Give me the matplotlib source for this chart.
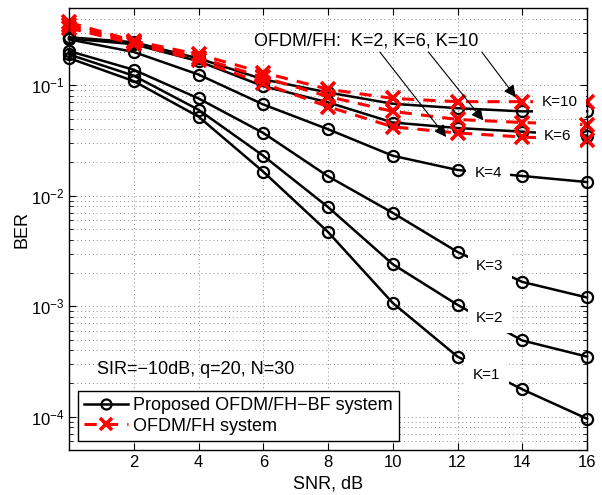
import matplotlib
matplotlib.use("Agg")
import matplotlib.pyplot as plt
import numpy as np

plt.rcParams['font.family'] = ['Liberation Sans', 'DejaVu Sans']
plt.rcParams['mathtext.fontset'] = 'custom'
plt.rcParams['mathtext.rm'] = 'Liberation Sans'
plt.rcParams['mathtext.it'] = 'Liberation Sans'

snr = [0, 2, 4, 6, 8, 10, 12, 14, 16]

# proposed OFDM/FH-BF system
bf_k1 = [0.176, 0.109, 0.052, 0.0165, 0.0047, 0.00107, 3.5e-4, 1.77e-4, 9.6e-5]
bf_k2 = [0.19, 0.122, 0.060, 0.023, 0.0079, 0.0024, 0.00103, 4.9e-4, 3.5e-4]
bf_k3 = [0.204, 0.138, 0.076, 0.037, 0.015, 0.0070, 0.0031, 0.00166, 0.0012]
bf_k4 = [0.26, 0.20, 0.125, 0.067, 0.040, 0.023, 0.0171, 0.0151, 0.0133]
bf_k6 = [0.265, 0.235, 0.165, 0.098, 0.070, 0.046, 0.041, 0.038, 0.035]
bf_k10 = [0.272, 0.245, 0.175, 0.113, 0.086, 0.068, 0.062, 0.058, 0.058]

# OFDM/FH system
fh_k2 = [0.33, 0.237, 0.168, 0.104, 0.064, 0.042, 0.037, 0.034, 0.032]
fh_k6 = [0.35, 0.245, 0.178, 0.118, 0.079, 0.058, 0.049, 0.046, 0.044]
fh_k10 = [0.37, 0.252, 0.19, 0.13, 0.092, 0.076, 0.071, 0.071, 0.071]

bf_curves = [bf_k1, bf_k2, bf_k3, bf_k4, bf_k6, bf_k10]
fh_curves = [fh_k2, fh_k6, fh_k10]

# curve labels: (text, snr, ber)
k_labels = [("K=1", 12.9, 2.4e-4), ("K=2", 13.0, 7.9e-4), ("K=3", 13.0, 2.3e-3),
            ("K=4", 12.95, 0.016), ("K=6", 15.1, 0.035), ("K=10", 15.15, 0.071)]

# arrows for the OFDM/FH note: (start snr, start ber, end snr, end ber)
arrows = [(9.6, 0.2, 11.65, 0.034), (11.1, 0.2, 12.8, 0.048), (12.75, 0.2, 13.8, 0.078)]

fig = plt.figure(figsize=(6.02, 4.95), dpi=100)
ax = fig.add_axes([69/602, 45/495, 518/602, 442/495])

for i, y in enumerate(bf_curves):
    ax.plot(snr, y, '-o', color='black', lw=1.8, ms=8, mfc='none', mew=1.6,
            clip_on=False, label='Proposed OFDM/FH\u2212BF system' if i == 0 else None)
for i, y in enumerate(fh_curves):
    ax.plot(snr, y, '--x', color='red', lw=2.2, ms=10, mew=2.6, dashes=(4, 3),
            clip_on=False, label='OFDM/FH system' if i == 0 else None)

ax.set_yscale('log')
ax.set_xlim(0, 16)
ax.set_ylim(5e-5, 0.5)
ax.set_xticks([2, 4, 6, 8, 10, 12, 14, 16])
ax.grid(True, which='major', linestyle=(0, (1, 3)), color='0.55', lw=0.7)
ax.grid(True, which='minor', axis='y', linestyle=(0, (1, 3)), color='0.55', lw=0.7)
ax.tick_params(which='both', direction='in', top=True, right=True, labelsize=12)
ax.tick_params(which='major', length=5)
ax.tick_params(which='minor', length=3)
for s in ax.spines.values():
    s.set_linewidth(1.0)

ax.set_xlabel('SNR, dB', fontsize=13, labelpad=4)
ax.set_ylabel('BER', fontsize=13, labelpad=0)

for txt, x, y in k_labels:
    ax.text(x, y, txt, fontsize=11, ha='center', va='center', zorder=5,
            bbox=dict(boxstyle='square,pad=0.55', fc='white', ec='none'))

ax.text(5.7, 0.25, 'OFDM/FH:  K=2, K=6, K=10', fontsize=13, ha='left', va='center', zorder=6)
for x0, y0, x1, y1 in arrows:
    ax.annotate('', xy=(x1, y1), xytext=(x0, y0), zorder=6,
                arrowprops=dict(arrowstyle='-|>', color='black', lw=0.8,
                                mutation_scale=18, shrinkA=0, shrinkB=0))

ax.text(0.86, 2.7e-4, 'SIR=\u221210dB, q=20, N=30', fontsize=13, ha='left', va='center')

leg = ax.legend(loc='lower left', fontsize=13, numpoints=1, handlelength=2.4,
                handletextpad=0.3, labelspacing=0.2, borderpad=0.35, borderaxespad=0.5,
                fancybox=False, framealpha=1, edgecolor='black', markerscale=0.9)
leg.get_frame().set_linewidth(1.0)
leg.set_zorder(7)

fig.savefig('out.png', dpi=100)
